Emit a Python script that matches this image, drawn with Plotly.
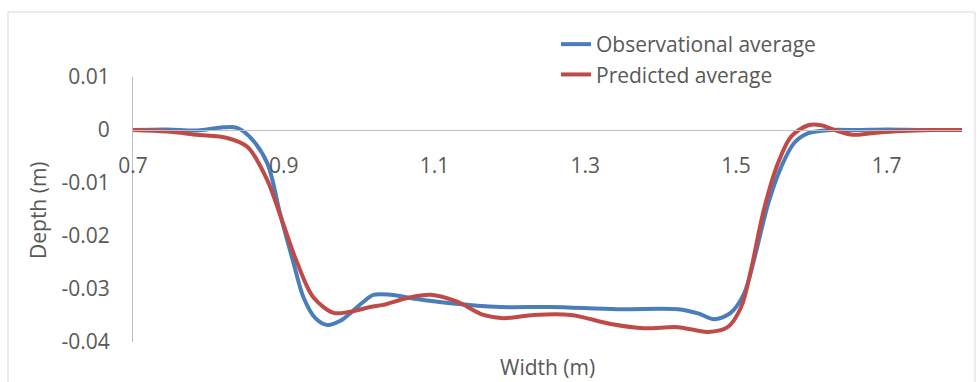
import plotly.graph_objects as go

# Observational average
obs_x = [0.70, 0.745, 0.785, 0.82, 0.838, 0.855, 0.878, 0.895, 0.913, 0.926, 0.942, 0.958, 0.975, 0.988,
         1.005, 1.019, 1.042, 1.077, 1.121, 1.188, 1.254, 1.343, 1.423, 1.45, 1.471, 1.493, 1.511, 1.524,
         1.543, 1.560, 1.577, 1.596, 1.626, 1.66, 1.70, 1.75, 1.80]
obs_y = [0.0, 0.0001, -0.0001, 0.0005, 0.0004, -0.0013, -0.0062, -0.0157, -0.0251, -0.0315, -0.0355,
         -0.0368, -0.0360, -0.0346, -0.0325, -0.0311, -0.0311, -0.0319, -0.0327, -0.0334, -0.0334,
         -0.0338, -0.0338, -0.0346, -0.0357, -0.0345, -0.0308, -0.0245, -0.0138, -0.0070, -0.0025,
         -0.0006, 0.0, 0.0, 0.0001, 0.0, 0.0]

# Predicted average
pred_x = [0.70, 0.745, 0.785, 0.825, 0.852, 0.878, 0.899, 0.918, 0.939, 0.966, 0.988, 1.015,
          1.032, 1.064, 1.095, 1.13, 1.165, 1.192, 1.232, 1.281, 1.334, 1.378, 1.423, 1.463, 1.489,
          1.507, 1.52, 1.537, 1.556, 1.573, 1.596, 1.613, 1.635, 1.655, 1.68, 1.72, 1.76, 1.80]
pred_y = [0.0, -0.0003, -0.0009, -0.0015, -0.0032, -0.0094, -0.0176, -0.0251, -0.0315,
          -0.0345, -0.0343, -0.0334, -0.0330, -0.0317, -0.0311, -0.0324, -0.0349, -0.0355, -0.0349,
          -0.0349, -0.0366, -0.0374, -0.0372, -0.0381, -0.0372, -0.0334, -0.0264, -0.0151, -0.0062,
          -0.0013, 0.0009, 0.0009, -0.0002, -0.0009, -0.0006, -0.0002, 0.0, 0.0]

x_ticks = [0.7, 0.9, 1.1, 1.3, 1.5, 1.7]
y_ticks = [0.01, 0, -0.01, -0.02, -0.03, -0.04]
y_tick_labels = ["0.01", "0", "-0.01", "-0.02", "-0.03", "-0.04"]

FONT = "Open Sans, Lato, sans-serif"
TXT = "#595959"

fig = go.Figure()
fig.add_trace(go.Scatter(x=obs_x, y=obs_y, mode="lines", name="Observational average",
                         line=dict(color="#4A7EBB", width=4, shape="spline", smoothing=0.9)))
fig.add_trace(go.Scatter(x=pred_x, y=pred_y, mode="lines", name="Predicted average",
                         line=dict(color="#BE4B48", width=4, shape="spline", smoothing=0.9)))

W, H = 977, 382
L, R, T, B = 133, 15, 77, 40
pw, ph = W - L - R, H - T - B

def px(xp):
    return (xp - L) / pw

def py(yp):
    return (H - B - yp) / ph

fig.update_layout(
    width=W, height=H,
    margin=dict(l=L, r=R, t=T, b=B),
    paper_bgcolor="white", plot_bgcolor="white",
    font=dict(family=FONT, size=21, color=TXT),
    showlegend=True,
    legend=dict(x=px(556), y=py(24), xanchor="left", yanchor="top",
                bgcolor="rgba(0,0,0,0)", font=dict(size=21, color=TXT),
                itemwidth=30, tracegroupgap=0),
    xaxis=dict(range=[0.7, 1.8], tickvals=x_ticks, ticktext=[str(v) for v in x_ticks],
               showgrid=False, zeroline=False, showline=True, linecolor="#BFBFBF", linewidth=1,
               anchor="free", position=0.8, ticks="outside", ticklen=17,
               tickcolor="rgba(0,0,0,0)", tickfont=dict(size=21, color=TXT)),
    yaxis=dict(range=[-0.04, 0.01], tickvals=y_ticks, ticktext=y_tick_labels,
               showgrid=False, zeroline=False, showline=True, linecolor="#BFBFBF", linewidth=1,
               ticks="outside", ticklen=18, tickcolor="rgba(0,0,0,0)",
               tickfont=dict(size=21, color=TXT)),
    shapes=[dict(type="rect", xref="paper", yref="paper",
                 x0=px(8), x1=px(975), y0=py(420), y1=py(12),
                 line=dict(color="#D9D9D9", width=1), fillcolor="rgba(0,0,0,0)", layer="below")],
    annotations=[
        dict(text="Width (m)", xref="paper", yref="paper", x=px(547), y=py(367),
             xanchor="center", yanchor="middle", showarrow=False,
             font=dict(size=21, color=TXT)),
        dict(text="Depth (m)", xref="paper", yref="paper", x=px(38), y=py(210),
             xanchor="center", yanchor="middle", textangle=-90, showarrow=False,
             font=dict(size=21, color=TXT)),
    ],
)

fig.write_html("out.html")
